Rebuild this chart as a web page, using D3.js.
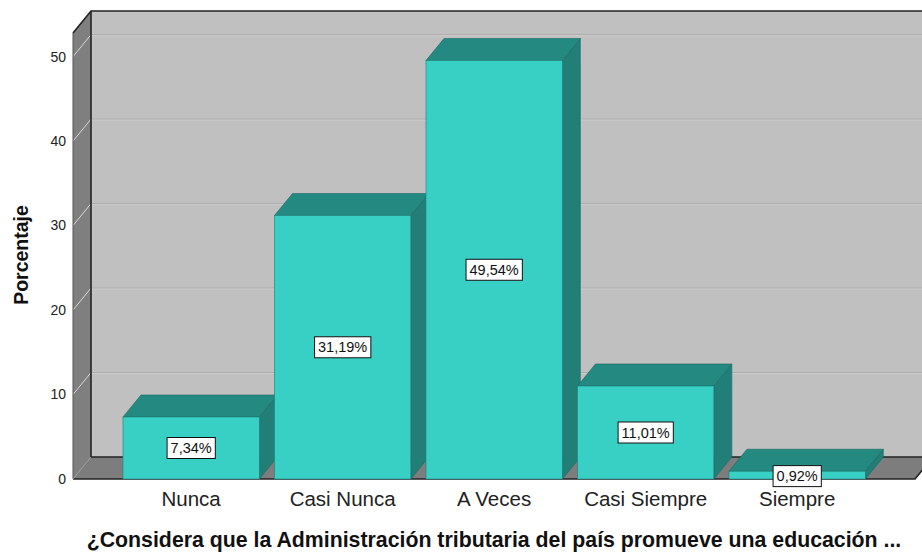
<!DOCTYPE html>
<html>
<head>
<meta charset="utf-8">
<script src="https://cdn.jsdelivr.net/npm/d3@7"></script>
<style>
  html, body { margin: 0; padding: 0; background: #fff; }
  svg { display: block; font-family: Arial, "Liberation Sans", sans-serif; }
</style>
</head>
<body>
<svg id="chart" width="922" height="554"></svg>
<script>
// Response categories and their percentages
const categories = ["Nunca", "Casi Nunca", "A Veces", "Casi Siempre", "Siempre"];
const percentages = [7.34, 31.19, 49.54, 11.01, 0.92];
const labels = ["7,34%", "31,19%", "49,54%", "11,01%", "0,92%"];
const yTicks = [0, 10, 20, 30, 40, 50];
const yTitle = "Porcentaje";
const xTitle = "¿Considera que la Administración tributaria del país promueve una educación ...";

(function () {
const svg = d3.select("#chart");

// 3D depth offset for the walls and bars
const DX = 18, DY = -22;

// Front plane of the plot
const pLeft = 73, pRight = 915, pBottom = 479, pTop = 33;

const y = d3.scaleLinear().domain([0, 52.8]).range([pBottom, pTop]);
const x = d3.scaleBand().domain(categories)
  .range([115.4, 872.9]).paddingInner(0.1).paddingOuter(0.05);

const poly = pts => "M" + pts.map(p => p.join(",")).join("L") + "Z";

// Back wall
svg.append("path")
  .attr("d", poly([[pLeft + DX, pTop + DY], [pRight + DX + 40, pTop + DY], [pRight + DX + 40, pBottom + DY], [pLeft + DX, pBottom + DY]]))
  .attr("fill", "#c0c0c0");

// Floor
svg.append("path")
  .attr("d", poly([[pLeft, pBottom], [pRight, pBottom], [pRight + DX, pBottom + DY], [pLeft + DX, pBottom + DY]]))
  .attr("fill", "#7d7d7d");

// Left wall
svg.append("path")
  .attr("d", poly([[pLeft, pTop], [pLeft + DX, pTop + DY], [pLeft + DX, pBottom + DY], [pLeft, pBottom]]))
  .attr("fill", "#7f7f7f");

// Grid lines on back wall and left wall
const grid = svg.append("g");
yTicks.filter(t => t > 0).forEach(t => {
  const yy = y(t);
  grid.append("line")
    .attr("x1", pLeft + DX).attr("x2", 922).attr("y1", yy + DY).attr("y2", yy + DY)
    .attr("stroke", "#acacac").attr("stroke-width", 1);
  grid.append("line")
    .attr("x1", pLeft + DX).attr("x2", 922).attr("y1", yy + DY + 1).attr("y2", yy + DY + 1)
    .attr("stroke", "#cbcbcb").attr("stroke-width", 1);
  grid.append("line")
    .attr("x1", pLeft).attr("x2", pLeft + DX).attr("y1", yy).attr("y2", yy + DY)
    .attr("stroke", "#d8d8d8").attr("stroke-width", 1);
});

// Wall outlines
const edge = svg.append("g").attr("fill", "none").attr("stroke", "#222").attr("stroke-width", 1.6);
edge.append("path").attr("d", `M${pLeft},${pTop}L${pLeft + DX},${pTop + DY}L930,${pTop + DY}`);
edge.append("path").attr("d", `M${pLeft + DX},${pTop + DY}L${pLeft + DX},${pBottom + DY}L930,${pBottom + DY}`);
edge.append("path").attr("d", `M${pLeft},${pTop}L${pLeft},${pBottom}`).attr("stroke", "#555").attr("stroke-width", 1);
edge.append("path").attr("d", `M${pLeft},${pBottom}L${pRight},${pBottom}L${pRight + DX},${pBottom + DY}`);
edge.append("path").attr("d", `M${pLeft},${pBottom}L${pLeft + DX},${pBottom + DY}`).attr("stroke", "#999").attr("stroke-width", 1);

// Y axis tick labels
svg.append("g").selectAll("text").data(yTicks).join("text")
  .attr("x", pLeft - 7).attr("y", d => y(d)).attr("dy", "0.35em")
  .attr("text-anchor", "end").attr("font-size", 14).attr("fill", "#222")
  .text(d => d);

// Bars
const bw = x.bandwidth();
const bars = svg.append("g").selectAll("g").data(categories).join("g");
bars.each(function (c, i) {
  const g = d3.select(this);
  const x0 = x(c), x1 = x0 + bw, y0 = y(0), y1 = y(percentages[i]);
  g.append("path")
    .attr("d", poly([[x1, y1], [x1 + DX, y1 + DY], [x1 + DX, y0 + DY], [x1, y0]]))
    .attr("fill", "#217f77").attr("stroke", "#1a6862").attr("stroke-width", 0.6);
  g.append("path")
    .attr("d", poly([[x0, y1], [x0 + DX, y1 + DY], [x1 + DX, y1 + DY], [x1, y1]]))
    .attr("fill", "#248a81").attr("stroke", "#1a6862").attr("stroke-width", 0.6);
  g.append("rect")
    .attr("x", x0).attr("y", y1).attr("width", bw).attr("height", y0 - y1)
    .attr("fill", "#38cfc5").attr("stroke", "#1f7f78").attr("stroke-width", 0.6);
});

// Value labels in boxes
const lab = svg.append("g").selectAll("g").data(categories).join("g")
  .attr("transform", (c, i) => `translate(${x(c) + bw / 2},${(y(0) + y(percentages[i])) / 2 - (percentages[i] < 2 ? -1 : 0)})`);
lab.each(function (c, i) {
  const g = d3.select(this);
  const t = g.append("text").attr("text-anchor", "middle").attr("dy", "0.35em")
    .attr("font-size", 14.5).attr("fill", "#111").text(labels[i]);
  const bb = t.node().getBBox();
  g.insert("rect", "text")
    .attr("x", bb.x - 3.5).attr("y", -10.5).attr("width", bb.width + 7).attr("height", 21)
    .attr("fill", "#fff").attr("stroke", "#111").attr("stroke-width", 1);
});

// Category labels
svg.append("g").selectAll("text").data(categories).join("text")
  .attr("x", c => x(c) + bw / 2).attr("y", 499).attr("dy", "0.35em")
  .attr("text-anchor", "middle").attr("font-size", 20.5).attr("fill", "#222")
  .text(c => c);

// Axis titles
svg.append("text")
  .attr("transform", `translate(21,255) rotate(-90)`)
  .attr("text-anchor", "middle").attr("dy", "0.35em")
  .attr("font-size", 19.5).attr("font-weight", "bold").attr("fill", "#111")
  .text(yTitle);

svg.append("text")
  .attr("x", 494).attr("y", 540).attr("dy", "0.35em")
  .attr("text-anchor", "middle").attr("font-size", 21.3).attr("font-weight", "bold").attr("fill", "#111")
  .text(xTitle);
})();
</script>
</body>
</html>
